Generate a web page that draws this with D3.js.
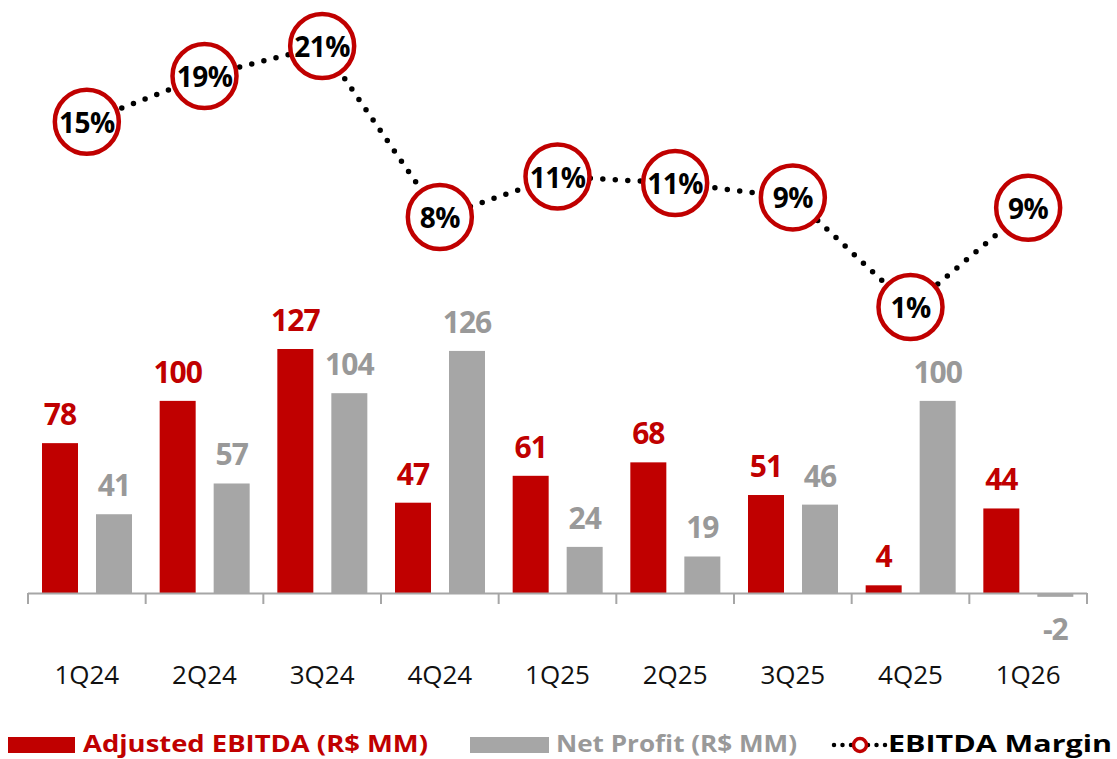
<!DOCTYPE html>
<html><head><meta charset="utf-8">
<script src="https://cdn.jsdelivr.net/npm/d3@7"></script>
<style>body{margin:0;background:#fff;} svg{display:block;font-family:"Open Sans",sans-serif;}</style>
</head><body>
<svg id="c" width="1117" height="759"></svg>
<script>
const categories = ["1Q24","2Q24","3Q24","4Q24","1Q25","2Q25","3Q25","4Q25","1Q26"];
const ebitda = [78,100,127,47,61,68,51,4,44];
const netProfit = [41,57,104,126,24,19,46,100,-2];
const margin = [15.2,18.7,21.0,7.9,11.0,10.5,9.4,1.0,8.6];
const marginLabels = ["15%","19%","21%","8%","11%","11%","9%","1%","9%"];

const RED = "#c00000", GRAY = "#a6a6a6", GRAYTXT = "#999999";
const svg = d3.select("#c");

const x = d3.scaleBand().domain(categories).range([28,1087]);
const y = d3.scaleLinear().domain([0,127]).range([593,349]);
const ym = d3.scaleLinear().domain([1,21]).range([307,46]);
const bw = 36;
const redOff = 14, grayOff = 68;

// bars
svg.selectAll("rect.e").data(ebitda).join("rect")
  .attr("x",(d,i)=>x(categories[i])+redOff).attr("width",bw)
  .attr("y",d=>y(Math.max(d,0))).attr("height",d=>Math.abs(y(d)-y(0)))
  .attr("fill",RED);
svg.selectAll("rect.n").data(netProfit).join("rect")
  .attr("x",(d,i)=>x(categories[i])+grayOff).attr("width",bw)
  .attr("y",d=>y(Math.max(d,0))).attr("height",d=>Math.max(Math.abs(y(d)-y(0)),1))
  .attr("fill",GRAY);

// bar labels
svg.selectAll("text.e").data(ebitda).join("text")
  .attr("x",(d,i)=>x(categories[i])+redOff+bw/2).attr("y",d=>y(d)-18)
  .attr("text-anchor","middle").attr("font-size",30).attr("font-weight",700)
  .attr("fill",RED).attr("letter-spacing",-1).text(d=>d);
svg.selectAll("text.n").data(netProfit).join("text")
  .attr("x",(d,i)=>x(categories[i])+grayOff+bw/2).attr("y",d=>d>=0?y(d)-18:y(d)+43)
  .attr("text-anchor","middle").attr("font-size",30).attr("font-weight",700)
  .attr("fill",GRAYTXT).attr("letter-spacing",-1).text(d=>d);

// axis
const bounds = categories.map(c=>x(c)).concat([x.range()[1]]);
svg.append("line").attr("x1",bounds[0]).attr("x2",bounds[bounds.length-1])
  .attr("y1",593.5).attr("y2",593.5).attr("stroke",GRAY).attr("stroke-width",2);
svg.selectAll("line.t").data(bounds).join("line")
  .attr("x1",d=>d).attr("x2",d=>d).attr("y1",593).attr("y2",604)
  .attr("stroke",GRAY).attr("stroke-width",2);
svg.selectAll("text.cat").data(categories).join("text")
  .attr("x",d=>x(d)+x.bandwidth()/2).attr("y",684)
  .attr("text-anchor","middle").attr("font-size",26).attr("fill","#111").text(d=>d);

// margin line
const cx = (d,i)=>x(categories[i])+x.bandwidth()/2;
svg.append("path").datum(margin)
  .attr("d",d3.line().x(cx).y(d=>ym(d)))
  .attr("fill","none").attr("stroke","#000").attr("stroke-width",5.5)
  .attr("stroke-linecap","round").attr("stroke-dasharray","0 12.5");
svg.selectAll("circle.m").data(margin).join("circle")
  .attr("cx",cx).attr("cy",d=>ym(d)).attr("r",32)
  .attr("fill","#fff").attr("stroke",RED).attr("stroke-width",4.5);
svg.selectAll("text.m").data(margin).join("text")
  .attr("x",cx).attr("y",d=>ym(d)+11)
  .attr("text-anchor","middle").attr("font-size",28).attr("font-weight",700)
  .attr("fill","#000").attr("letter-spacing",-0.5).text((d,i)=>marginLabels[i]);

// legend
const lg = svg.append("g");
lg.append("rect").attr("x",8).attr("y",737).attr("width",67).attr("height",16).attr("fill",RED);
lg.append("text").attr("x",83).attr("y",752).attr("font-size",23).attr("font-weight",700)
  .attr("fill",RED).attr("textLength",345).attr("lengthAdjust","spacingAndGlyphs").text("Adjusted EBITDA (R$ MM)");
lg.append("rect").attr("x",470).attr("y",737).attr("width",79).attr("height",16).attr("fill",GRAY);
lg.append("text").attr("x",556).attr("y",752).attr("font-size",23).attr("font-weight",700)
  .attr("fill",GRAYTXT).attr("textLength",241).attr("lengthAdjust","spacingAndGlyphs").text("Net Profit (R$ MM)");
lg.append("line").attr("x1",834).attr("x2",886).attr("y1",745).attr("y2",745)
  .attr("stroke","#000").attr("stroke-width",4.5).attr("stroke-linecap","round").attr("stroke-dasharray","0 8.5");
lg.append("circle").attr("cx",860).attr("cy",745).attr("r",6.5).attr("fill","#fff").attr("stroke",RED).attr("stroke-width",3.5);
lg.append("text").attr("x",888).attr("y",752).attr("font-size",23).attr("font-weight",700)
  .attr("fill","#000").attr("textLength",224).attr("lengthAdjust","spacingAndGlyphs").text("EBITDA Margin");
</script>
</body></html>
